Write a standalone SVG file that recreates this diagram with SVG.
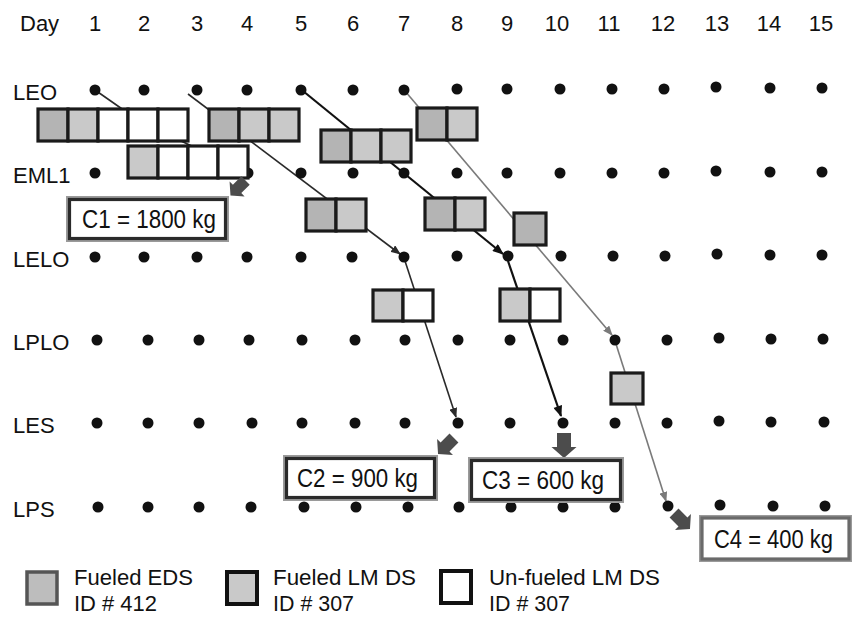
<svg xmlns="http://www.w3.org/2000/svg" xmlns:xlink="http://www.w3.org/1999/xlink" width="852" height="617" viewBox="0 0 852 617">
<style>
text{font-family:"Liberation Sans",Arial,sans-serif;fill:#111;}
.ax{font-size:22px;}
.lab{font-size:25px;}
.leg{font-size:22px;}
.dot{fill:#111;}
.cell{stroke:#1a1a1a;stroke-width:3.2;}
.E{fill:#b4b4b4;}
.L{fill:#c9c9c9;}
.W{fill:#fff;}
.ln{fill:none;stroke:#2a2a2a;stroke-width:1.6;}
.lnb{fill:none;stroke:#111;stroke-width:2.2;}
.lng{fill:none;stroke:#7a7a7a;stroke-width:1.6;}
.cbox{fill:#fff;stroke:#2a2a2a;stroke-width:3.2;}
.cbox2{fill:none;stroke:#9a9a9a;stroke-width:2;}
.blk{fill:#4c4c4c;}
</style>
<defs>
<marker id="ah" viewBox="0 0 10 8" refX="9" refY="4" markerWidth="10" markerHeight="8" markerUnits="userSpaceOnUse" orient="auto"><path d="M0,0 L10,4 L0,8 Z" fill="#2a2a2a"/></marker>
<marker id="ahb" viewBox="0 0 10 8" refX="9" refY="4" markerWidth="12" markerHeight="9" markerUnits="userSpaceOnUse" orient="auto"><path d="M0,0 L10,4 L0,8 Z" fill="#111"/></marker>
<marker id="ahg" viewBox="0 0 10 8" refX="9" refY="4" markerWidth="10" markerHeight="8" markerUnits="userSpaceOnUse" orient="auto"><path d="M0,0 L10,4 L0,8 Z" fill="#7a7a7a"/></marker>
<path id="blk" d="M-7,-12.5 L7,-12.5 L7,1.5 L12.5,1.5 L0,12.5 L-12.5,1.5 L-7,1.5 Z"/>
</defs>

<g id="axis">
<text class="ax" x="20" y="31">Day</text>
<g text-anchor="middle">
<text class="ax" x="95" y="31">1</text>
<text class="ax" x="144" y="31">2</text>
<text class="ax" x="197" y="31">3</text>
<text class="ax" x="247" y="31">4</text>
<text class="ax" x="301" y="31">5</text>
<text class="ax" x="353" y="31">6</text>
<text class="ax" x="404" y="31">7</text>
<text class="ax" x="457" y="31">8</text>
<text class="ax" x="507" y="31">9</text>
<text class="ax" x="557" y="31">10</text>
<text class="ax" x="609" y="31">11</text>
<text class="ax" x="663" y="31">12</text>
<text class="ax" x="717" y="31">13</text>
<text class="ax" x="769" y="31">14</text>
<text class="ax" x="821" y="31">15</text>
</g>
<text class="ax" x="13" y="100">LEO</text>
<text class="ax" x="13" y="183">EML1</text>
<text class="ax" x="13" y="267">LELO</text>
<text class="ax" x="13" y="350">LPLO</text>
<text class="ax" x="13" y="433">LES</text>
<text class="ax" x="13" y="517">LPS</text>
</g>

<g id="connectors">
<path class="ln" d="M95,90 L125,111 M181,141 L196,148"/>
<path class="ln" d="M188,94 L400,254" marker-end="url(#ah)"/>
<path class="lnb" d="M303,91 L503,254" marker-end="url(#ahb)"/>
<path class="lng" d="M405,91 L612,335" marker-end="url(#ahg)"/>
<path class="lng" d="M616,344 L666,501" marker-end="url(#ahg)"/>
<path class="ln" d="M405,261 L456,417" marker-end="url(#ah)"/>
<path class="lnb" d="M508,261 L561,416" marker-end="url(#ahb)"/>
</g>

<g id="dots" class="dot">
<g id="row-LEO">
<circle cx="95" cy="90" r="5.5"/><circle cx="144" cy="90" r="5.5"/><circle cx="197" cy="90" r="5.5"/><circle cx="247" cy="90" r="5.5"/><circle cx="301" cy="90" r="5.5"/><circle cx="353" cy="90" r="5.5"/><circle cx="404" cy="90" r="5.5"/><circle cx="457" cy="89" r="5.5"/><circle cx="507" cy="89" r="5.5"/><circle cx="560" cy="89" r="5.5"/><circle cx="612" cy="89" r="5.5"/><circle cx="664" cy="89" r="5.5"/><circle cx="716" cy="87" r="5.5"/><circle cx="770" cy="88" r="5.5"/><circle cx="822" cy="88" r="5.5"/>
</g>
<g id="row-EML1">
<circle cx="95" cy="173" r="5.5"/><circle cx="144" cy="173" r="5.5"/><circle cx="197" cy="173" r="5.5"/><circle cx="248" cy="173" r="5.5"/><circle cx="301" cy="173" r="5.5"/><circle cx="353" cy="173" r="5.5"/><circle cx="404" cy="173" r="5.5"/><circle cx="457" cy="173" r="5.5"/><circle cx="507" cy="173" r="5.5"/><circle cx="560" cy="173" r="5.5"/><circle cx="612" cy="173" r="5.5"/><circle cx="664" cy="173" r="5.5"/><circle cx="716" cy="171" r="5.5"/><circle cx="770" cy="172" r="5.5"/><circle cx="822" cy="172" r="5.5"/>
</g>
<g id="row-LELO">
<circle cx="95" cy="257" r="5.5"/><circle cx="144" cy="257" r="5.5"/><circle cx="197" cy="257" r="5.5"/><circle cx="247" cy="257" r="5.5"/><circle cx="301" cy="257" r="5.5"/><circle cx="352" cy="257" r="5.5"/><circle cx="404" cy="257" r="5.5"/><circle cx="457" cy="256" r="5.5"/><circle cx="508" cy="256" r="5.5"/><circle cx="561" cy="256" r="5.5"/><circle cx="613" cy="256" r="5.5"/><circle cx="665" cy="256" r="5.5"/><circle cx="717" cy="254" r="5.5"/><circle cx="770" cy="255" r="5.5"/><circle cx="822" cy="255" r="5.5"/>
</g>
<g id="row-LPLO">
<circle cx="97" cy="340" r="5.5"/><circle cx="148" cy="340" r="5.5"/><circle cx="199" cy="340" r="5.5"/><circle cx="249" cy="340" r="5.5"/><circle cx="302" cy="340" r="5.5"/><circle cx="355" cy="340" r="5.5"/><circle cx="405" cy="340" r="5.5"/><circle cx="458" cy="340" r="5.5"/><circle cx="510" cy="340" r="5.5"/><circle cx="563" cy="340" r="5.5"/><circle cx="615" cy="340" r="5.5"/><circle cx="667" cy="340" r="5.5"/><circle cx="719" cy="338" r="5.5"/><circle cx="771" cy="339" r="5.5"/><circle cx="823" cy="339" r="5.5"/>
</g>
<g id="row-LES">
<circle cx="97" cy="423" r="5.5"/><circle cx="148" cy="423" r="5.5"/><circle cx="199" cy="423" r="5.5"/><circle cx="252" cy="423" r="5.5"/><circle cx="302" cy="423" r="5.5"/><circle cx="355" cy="423" r="5.5"/><circle cx="405" cy="423" r="5.5"/><circle cx="458" cy="423" r="5.5"/><circle cx="510" cy="423" r="5.5"/><circle cx="563" cy="423" r="5.5"/><circle cx="615" cy="423" r="5.5"/><circle cx="667" cy="423" r="5.5"/><circle cx="719" cy="421" r="5.5"/><circle cx="771" cy="422" r="5.5"/><circle cx="824" cy="422" r="5.5"/>
</g>
<g id="row-LPS">
<circle cx="98" cy="507" r="5.5"/><circle cx="148" cy="507" r="5.5"/><circle cx="199" cy="507" r="5.5"/><circle cx="251" cy="507" r="5.5"/><circle cx="304" cy="507" r="5.5"/><circle cx="356" cy="507" r="5.5"/><circle cx="408" cy="507" r="5.5"/><circle cx="459" cy="507" r="5.5"/><circle cx="511" cy="507" r="5.5"/><circle cx="563" cy="507" r="5.5"/><circle cx="615" cy="507" r="5.5"/><circle cx="668" cy="506" r="5.5"/><circle cx="720" cy="505" r="5.5"/><circle cx="773" cy="506" r="5.5"/><circle cx="825" cy="506" r="5.5"/>
</g>
</g>

<g id="stack-1">
<rect class="cell E" x="38" y="109" width="30" height="32"/>
<rect class="cell L" x="68" y="109" width="30" height="32"/>
<rect class="cell W" x="98" y="109" width="30" height="32"/>
<rect class="cell W" x="128" y="109" width="30" height="32"/>
<rect class="cell W" x="158" y="109" width="30" height="32"/>
</g>
<g id="stack-2">
<rect class="cell E" x="209" y="109" width="30" height="32"/>
<rect class="cell L" x="239" y="109" width="30" height="32"/>
<rect class="cell L" x="269" y="109" width="30" height="32"/>
</g>
<g id="stack-3">
<rect class="cell E" x="321" y="130" width="30" height="32"/>
<rect class="cell L" x="351" y="130" width="30" height="32"/>
<rect class="cell L" x="381" y="130" width="30" height="32"/>
</g>
<g id="stack-4">
<rect class="cell E" x="417" y="108" width="30" height="32"/>
<rect class="cell L" x="447" y="108" width="30" height="32"/>
</g>
<g id="stack-5">
<rect class="cell L" x="128" y="146" width="30" height="32"/>
<rect class="cell W" x="158" y="146" width="30" height="32"/>
<rect class="cell W" x="188" y="146" width="30" height="32"/>
<rect class="cell W" x="218" y="146" width="30" height="32"/>
</g>
<g id="stack-6">
<rect class="cell E" x="306" y="199" width="30" height="32"/>
<rect class="cell L" x="336" y="199" width="30" height="32"/>
</g>
<g id="stack-7">
<rect class="cell E" x="425" y="198" width="30" height="32"/>
<rect class="cell L" x="455" y="198" width="30" height="32"/>
</g>
<g id="stack-8">
<rect class="cell E" x="514" y="213" width="32" height="32"/>
</g>
<g id="stack-9">
<rect class="cell L" x="373" y="290" width="30" height="31"/>
<rect class="cell W" x="403" y="290" width="30" height="31"/>
</g>
<g id="stack-10">
<rect class="cell L" x="500" y="289" width="30" height="32"/>
<rect class="cell W" x="530" y="289" width="30" height="32"/>
</g>
<g id="stack-11">
<rect class="cell L" x="611" y="373" width="32" height="31"/>
</g>

<g id="c1">
<use href="#blk" class="blk" transform="translate(238,188) rotate(45) scale(0.85)"/>
<rect class="cbox2" x="67" y="197" width="161" height="44"/>
<rect class="cbox" x="69.5" y="199.5" width="156" height="39"/>
<text class="lab" x="82" y="228" textLength="134" lengthAdjust="spacingAndGlyphs">C1 = 1800 kg</text>
</g>
<g id="c2">
<use href="#blk" class="blk" transform="translate(446,446) rotate(45) scale(0.9)"/>
<rect class="cbox2" x="284" y="456" width="153" height="44"/>
<rect class="cbox" x="286.5" y="458.5" width="148" height="39"/>
<text class="lab" x="297" y="487" textLength="121" lengthAdjust="spacingAndGlyphs">C2 = 900 kg</text>
</g>
<g id="c3">
<use href="#blk" class="blk" transform="translate(564,445.5)"/>
<rect class="cbox2" x="469" y="458" width="154" height="44"/>
<rect class="cbox" x="471.5" y="460.5" width="149" height="39"/>
<text class="lab" x="482" y="489" textLength="122" lengthAdjust="spacingAndGlyphs">C3 = 600 kg</text>
</g>
<g id="c4">
<use href="#blk" class="blk" transform="translate(682,521) rotate(-45) scale(0.9)"/>
<rect class="cbox2" x="700" y="516" width="151" height="45"/>
<rect class="cbox" x="702" y="518" width="147" height="41" style="stroke:#6a6a6a"/>
<text class="lab" x="714" y="548" textLength="119" lengthAdjust="spacingAndGlyphs">C4 = 400 kg</text>
</g>

<g id="legend">
<g id="leg-eds">
<rect x="27" y="572" width="30" height="32" fill="#bdbdbd" stroke="#555" stroke-width="3.5"/>
<text class="leg" x="74" y="585" textLength="119" lengthAdjust="spacingAndGlyphs">Fueled EDS</text>
<text class="leg" x="74" y="611" textLength="83" lengthAdjust="spacingAndGlyphs">ID # 412</text>
</g>
<g id="leg-lm">
<rect x="227" y="572" width="30" height="32" fill="#c9c9c9" stroke="#111" stroke-width="4"/>
<text class="leg" x="273" y="585" textLength="143" lengthAdjust="spacingAndGlyphs">Fueled LM DS</text>
<text class="leg" x="273" y="611" textLength="81" lengthAdjust="spacingAndGlyphs">ID # 307</text>
</g>
<g id="leg-un">
<rect x="441" y="571" width="30" height="32" fill="#fff" stroke="#111" stroke-width="4"/>
<text class="leg" x="489" y="585" textLength="171" lengthAdjust="spacingAndGlyphs">Un-fueled LM DS</text>
<text class="leg" x="489" y="611" textLength="81" lengthAdjust="spacingAndGlyphs">ID # 307</text>
</g>
</g>
</svg>
